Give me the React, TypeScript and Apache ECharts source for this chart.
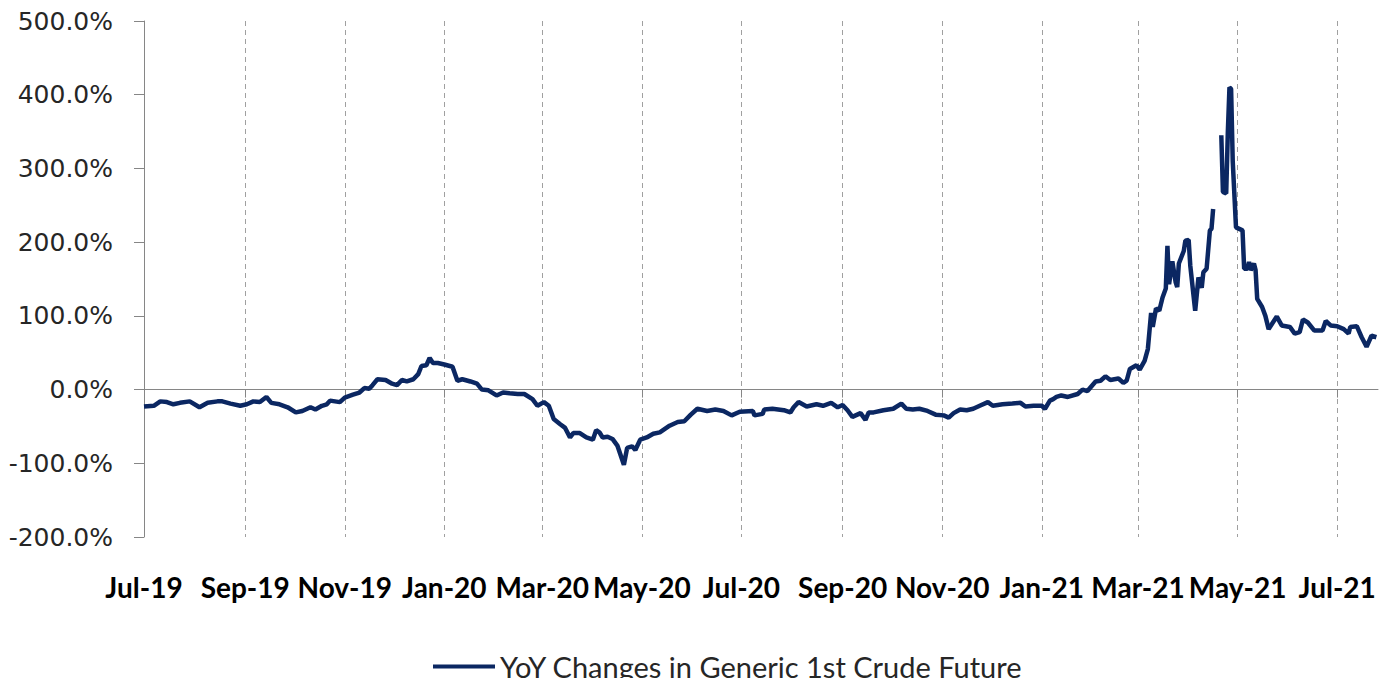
import { useEffect, useRef } from "react";
import * as echarts from "echarts";

const SERIES_NAME = "YoY Changes in Generic 1st Crude Future";
const BASE_DATE = "2019-07-01";
const END_OFFSET_DAYS = 756;

const tickDates = [
  "2019-07-01", "2019-09-01", "2019-11-01", "2020-01-01", "2020-03-01", "2020-05-01",
  "2020-07-01", "2020-09-01", "2020-11-01", "2021-01-01", "2021-03-01", "2021-05-01", "2021-07-01",
];
const tickLabels = [
  "Jul-19", "Sep-19", "Nov-19", "Jan-20", "Mar-20", "May-20",
  "Jul-20", "Sep-20", "Nov-20", "Jan-21", "Mar-21", "May-21", "Jul-21",
];

// days since BASE_DATE
const dayOffsets = [
  0, 6, 10, 14, 18, 22, 28, 34, 39, 45, 48, 53, 59, 63, 67, 71, 75, 78, 83, 88, 93, 97, 102, 105, 109, 112, 114,
  120, 123, 128, 132, 135, 138, 140, 143, 148, 152, 155, 158, 161, 165, 168, 170, 173, 175, 177, 180, 184, 189,
  192, 195, 200, 204, 207, 211, 216, 220, 224, 229, 233, 238, 241, 245, 248, 251, 255, 258, 261, 263, 267, 271,
  275, 277, 279, 281, 284, 287, 290, 294, 296, 299, 301, 304, 308, 312, 316, 322, 327, 331, 335, 339, 345, 350,
  355, 360, 365, 373, 374, 379, 380, 385, 392, 396, 398, 401, 406, 412, 416, 421, 425, 428, 431, 434, 439, 442,
  444, 447, 453, 459, 464, 467, 471, 475, 480, 485, 490, 493, 496, 500, 504, 508, 512, 517, 520, 526, 532, 537,
  540, 545, 550, 552, 555, 557, 559, 562, 566, 572, 575, 578, 583, 586, 589, 592, 597, 600, 602, 604, 608, 610,
  613, 615, 617, 618, 620, 622, 624, 626, 627, 628, 630, 632, 633, 634, 637, 638, 640, 641, 644, 646, 648, 649,
  651, 653, 654, 655, 657, 660, 661, 663, 664, 665, 666, 667, 669, 671, 673, 674, 676, 677, 678, 680, 681, 682,
  685, 687, 689, 691, 694, 697, 702, 705, 708, 710, 713, 717, 722, 724, 727, 731, 735, 738, 739, 743, 746, 749,
  752, 755,
];

// YoY change, percent (null = gap in the source series)
const yoyValues: (number | null)[] = [
  -23, -22, -16, -17, -20, -18, -16, -24, -18, -16, -16, -19, -22, -20, -16, -17, -10, -18, -20, -24, -31, -29, -24, -27, -22, -20, -15,
  -17, -11, -7, -4, 2, 1, 6, 14, 13, 8, 6, 13, 11, 14, 21, 32, 33, 43, 36, 36, 34, 31,
  12, 14, 11, 8, 0, -1, -8, -4, -5, -6, -6, -13, -22, -17, -22, -40, -47, -52, -65, -59, -59, -65,
  -68, -55, -58, -65, -64, -67, -76, -102, -79, -77, -82, -68, -65, -60, -58, -49, -44, -43, -34, -26, -29, -27,
  -29, -35, -30, -29, -35, -33, -27, -26, -28, -31, -24, -17, -23, -20, -22, -18, -24, -21, -28, -37, -32, -41,
  -31, -31, -28, -26, -19, -26, -27, -26, -29, -34, -35, -38, -32, -27, -28, -26, -22, -17, -22, -20, -19, -18,
  -23, -22, -22, -26, -15, -13, -10, -8, -10, -6, 0, -2, 11, 12, 18, 13, 15, 9, 12, 28, 33, 27,
  39, 55, 104, 85, 110, 107, 125, 137, 195, 143, 174, 146, 139, 171, 188, 202, 203, 168, 107, 152, 138, 159,
  164, 216, 218, 245, null, 345, 268, 266, 349, 410, 408, 310, 220, 218, 216, 164, 164, 173, 162, 171, 162, 123,
  112, 100, 82, 89, 99, 87, 85, 76, 78, 95, 91, 80, 80, 93, 87, 86, 82, 76, 85, 86, 71, 58,
  73, 71,
];

const Y_MIN = -200;
const Y_MAX = 500;
const Y_STEP = 100;

const DAY_MS = 86400000;
const toTs = (d: string) => {
  const [y, m, dd] = d.split("-").map(Number);
  return Date.UTC(y, m - 1, dd);
};

const LINE_COLOR = "#0b2762";
const AXIS_COLOR = "#868686";

export default function App() {
  const ref = useRef<HTMLDivElement>(null);

  useEffect(() => {
    if (!ref.current) return;
    const chart = echarts.init(ref.current, undefined, { renderer: "svg" });
    const baseTs = toTs(BASE_DATE);
    const tickTs = tickDates.map(toTs);
    const data = dayOffsets.map((d, i) => [baseTs + d * DAY_MS, yoyValues[i]]);
    const labelFor = (v: number) => {
      let best = 0;
      let bestDiff = Infinity;
      tickTs.forEach((t, i) => {
        const diff = Math.abs(t - v);
        if (diff < bestDiff) {
          bestDiff = diff;
          best = i;
        }
      });
      return tickLabels[best];
    };

    chart.setOption({
      animation: false,
      grid: { left: 144, right: 8, top: 21, bottom: 141, outerBoundsMode: "none" },
      xAxis: {
        type: "value",
        min: baseTs,
        max: baseTs + END_OFFSET_DAYS * DAY_MS,
        axisLine: { show: true, onZero: true, lineStyle: { color: AXIS_COLOR, width: 1 } },
        axisTick: { show: true, length: 8, customValues: tickTs, lineStyle: { color: AXIS_COLOR } },
        axisLabel: {
          customValues: tickTs,
          formatter: (v: number) => labelFor(v),
          margin: 36,
          fontFamily: "Lato",
          fontWeight: "bold",
          fontSize: 28,
          color: "#000",
        },
        splitLine: { show: true, lineStyle: { type: [5, 4], color: "#a0a0a0", width: 1 } },
      },
      yAxis: {
        type: "value",
        min: Y_MIN,
        max: Y_MAX,
        interval: Y_STEP,
        axisLine: { show: true, onZero: false, lineStyle: { color: AXIS_COLOR, width: 1 } },
        axisTick: { show: true, length: 10, lineStyle: { color: AXIS_COLOR } },
        axisLabel: {
          formatter: (v: number) => v.toFixed(1) + "%",
          margin: 31,
          fontFamily: "DejaVu Sans",
          fontSize: 25,
          color: "#262626",
        },
        splitLine: { show: false },
      },
      legend: {
        data: [SERIES_NAME],
        left: 428,
        top: 647,
        icon: "rect",
        itemWidth: 62,
        itemHeight: 4,
        textStyle: { fontFamily: "Lato", fontSize: 29, color: "#262626" },
      },
      series: [
        {
          name: SERIES_NAME,
          type: "line",
          data,
          showSymbol: false,
          symbol: "none",
          connectNulls: false,
          lineStyle: { width: 4.5, color: LINE_COLOR },
          itemStyle: { color: LINE_COLOR },
        },
      ],
    });

    return () => chart.dispose();
  }, []);

  return (
    <div
      ref={ref}
      style={{ position: "absolute", left: 0, top: 0, width: 1386, height: 678 }}
    />
  );
}
